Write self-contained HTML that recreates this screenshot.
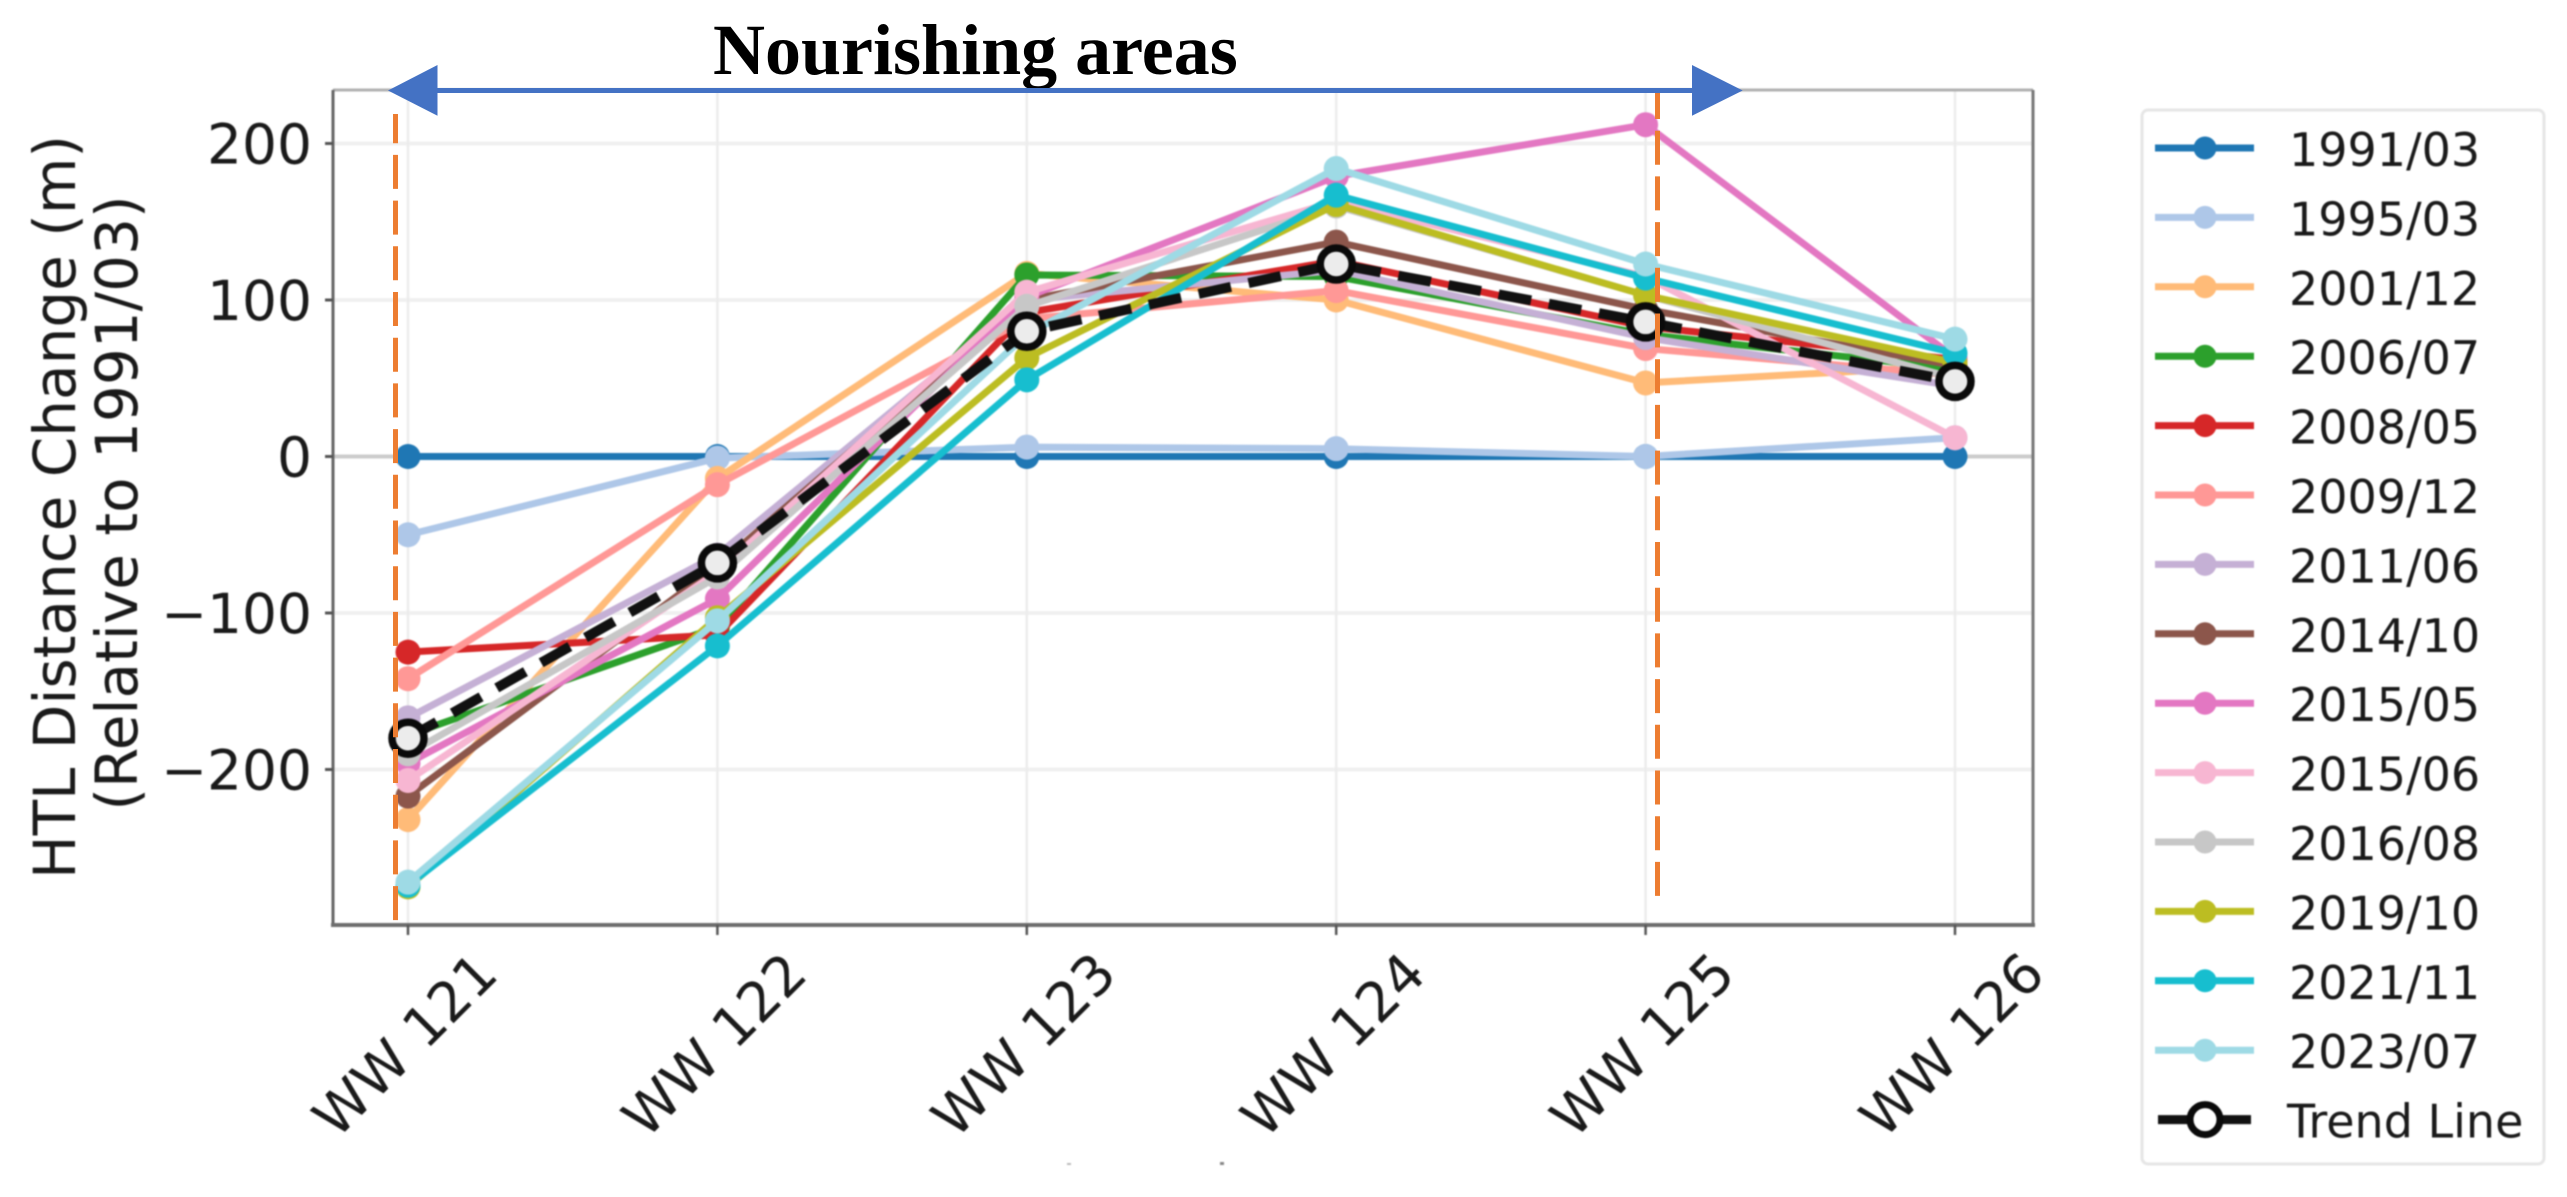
<!DOCTYPE html>
<html lang="en">
<head>
<meta charset="utf-8">
<title>HTL Distance Change</title>
<style>
  html, body { margin: 0; padding: 0; background: #fff; }
  #chart-svg { display: block; width: 2567px; height: 1197px; background: #fff; }
  text { font-family: "DejaVu Sans", "Liberation Sans", sans-serif; fill: #1a1a1a; }
  #base { filter: blur(0.8px); }
</style>
</head>
<body>
<svg id="chart-svg" xmlns="http://www.w3.org/2000/svg" width="2567" height="1197" viewBox="0 0 2567 1197">
  <g id="base">
    <g id="grid"></g>
    <line x1="333" y1="456.5" x2="2033" y2="456.5" stroke="#cccccc" stroke-width="4"></line>
    <g id="spines">
      <line x1="333" y1="90" x2="2033" y2="90" stroke="#b0b0b0" stroke-width="3"></line>
      <line x1="2033" y1="90" x2="2033" y2="926" stroke="#777777" stroke-width="3"></line>
      <line x1="333" y1="90" x2="333" y2="926" stroke="#666666" stroke-width="3"></line>
      <line x1="331" y1="925" x2="2035" y2="925" stroke="#6e6e6e" stroke-width="4"></line>
    </g>
    <g id="ticks"></g>
    <g id="series"></g>
    <g id="trend"></g>

    <text transform="translate(75 507) rotate(-90)" text-anchor="middle" font-size="58">HTL Distance Change (m)</text>
    <text transform="translate(137 503) rotate(-90)" text-anchor="middle" font-size="58">(Relative to 1991/03)</text>

    <rect x="2142" y="110" width="402" height="1054" rx="6" ry="6" fill="#ffffff" stroke="#e6e6e6" stroke-width="3"></rect>
    <g id="legend"></g>

    <rect x="1067" y="1163" width="4" height="2" fill="#bbbbbb"></rect>
    <rect x="1220" y="1162" width="4" height="3" fill="#888888"></rect>
  </g>

  <text x="713" y="74" font-size="72" font-weight="700" style="font-family:'Liberation Serif',serif;fill:#000">Nourishing areas</text>

  <line x1="395.5" y1="114" x2="395.5" y2="924" stroke="#ED7D31" stroke-width="5" stroke-dasharray="34 11.7" stroke-dashoffset="4.8"></line>
  <line x1="1657.5" y1="93" x2="1657.5" y2="899" stroke="#ED7D31" stroke-width="5" stroke-dasharray="34 11.7" stroke-dashoffset="8"></line>

  <g>
    <rect x="430" y="88" width="1270" height="5" fill="#4472C4"></rect>
    <polygon points="388,90.5 437.5,65 437.5,115.7" fill="#4472C4"></polygon>
    <polygon points="1742.7,90.5 1692,65 1692,115.7" fill="#4472C4"></polygon>
  </g>
</svg>

<script>
// Chart data
const categories = ["WW 121", "WW 122", "WW 123", "WW 124", "WW 125", "WW 126"];
const yTickValues = [200, 100, 0, -100, -200];
const yTickLabels = ["200", "100", "0", "\u2212100", "\u2212200"];

const seriesNames = ["1991/03", "1995/03", "2001/12", "2006/07", "2008/05", "2009/12", "2011/06", "2014/10", "2015/05", "2015/06", "2016/08", "2019/10", "2021/11", "2023/07"];
const seriesColors = ["#1f77b4", "#aec7e8", "#ffbb78", "#2ca02c", "#d62728", "#ff9896", "#c5b0d5", "#8c564b", "#e377c2", "#f7b6d2", "#c7c7c7", "#bcbd22", "#17becf", "#9edae5"];

const s199103 = [0, 0, 0, 0, 0, 0];
const s199503 = [-50, -1, 6, 5, 0, 12];
const s200112 = [-232, -14, 117, 100, 47, 58];
const s200607 = [-178, -109, 116, 115, 78, 56];
const s200805 = [-125, -114, 92, 125, 83, 62];
const s200912 = [-142, -18, 88, 106, 69, 52];
const s201106 = [-167, -63, 100, 119, 76, 45];
const s201410 = [-217, -70, 100, 137, 94, 58];
const s201505 = [-196, -91, 102, 179, 212, 63];
const s201506 = [-207, -74, 105, 163, 115, 12];
const s201608 = [-190, -77, 96, 160, 103, 50];
const s201910 = [-275, -103, 63, 161, 103, 60];
const s202111 = [-274, -121, 49, 167, 114, 66];
const s202307 = [-272, -105, 78, 184, 123, 75];
const seriesValues = [s199103, s199503, s200112, s200607, s200805, s200912, s201106, s201410, s201505, s201506, s201608, s201910, s202111, s202307];

const trendValues = [-180, -68, 80, 123, 86, 48];
const trendName = "Trend Line";

// Axis functions
function xScale(i) { return 408 + 309.4 * i; }
function yScale(v) { return 456.5 - 1.565 * v; }

const NS = "http://www.w3.org/2000/svg";
function mk(tag, parent) {
  const el = document.createElementNS(NS, tag);
  parent.appendChild(el);
  return el;
}
function pointsOf(vals) {
  return vals.map(function (v, i) { return xScale(i).toFixed(1) + "," + yScale(v).toFixed(1); }).join(" ");
}

const gridG = document.getElementById("grid");
const ticksG = document.getElementById("ticks");
const seriesG = document.getElementById("series");
const trendG = document.getElementById("trend");
const legendG = document.getElementById("legend");

// Gridlines, ticks and tick labels
yTickValues.forEach(function (v, i) {
  const y = yScale(v);
  if (v !== 0) {
    const g = mk("line", gridG);
    g.setAttribute("x1", 333); g.setAttribute("x2", 2033);
    g.setAttribute("y1", y); g.setAttribute("y2", y);
    g.setAttribute("stroke", "#f0f0f0"); g.setAttribute("stroke-width", 4);
    
    
  }
  const t = mk("line", ticksG);
  t.setAttribute("x1", 325); t.setAttribute("x2", 333);
  t.setAttribute("y1", y); t.setAttribute("y2", y);
  t.setAttribute("stroke", "#555"); t.setAttribute("stroke-width", 3);
  
  
  const l = mk("text", ticksG);
  l.setAttribute("x", 312); l.setAttribute("y", y + 20);
  l.setAttribute("text-anchor", "end"); l.setAttribute("font-size", 55);
  l.textContent = yTickLabels[i];
  
  
});

categories.forEach(function (c, i) {
  const x = xScale(i);
  const g = mk("line", gridG);
  g.setAttribute("x1", x); g.setAttribute("x2", x);
  g.setAttribute("y1", 90); g.setAttribute("y2", 925);
  g.setAttribute("stroke", "#ececec"); g.setAttribute("stroke-width", 2.5);
  
  
  const t = mk("line", ticksG);
  t.setAttribute("x1", x); t.setAttribute("x2", x);
  t.setAttribute("y1", 925); t.setAttribute("y2", 935);
  t.setAttribute("stroke", "#555"); t.setAttribute("stroke-width", 2.5);
  
  
  const l = mk("text", ticksG);
  l.setAttribute("transform", "translate(" + (x - 3) + " 1045) rotate(-45)");
  l.setAttribute("text-anchor", "middle");
  l.setAttribute("y", 19);
  l.setAttribute("font-size", 55);
  l.textContent = c;
  
  
});

// Series lines and markers
seriesValues.forEach(function (vals, s) {
  const g = mk("g", seriesG);
  
  
  const line = mk("polyline", g);
  line.setAttribute("points", pointsOf(vals));
  line.setAttribute("fill", "none");
  line.setAttribute("stroke", seriesColors[s]);
  line.setAttribute("stroke-width", 7);
  line.setAttribute("stroke-linejoin", "round");
  
  
  vals.forEach(function (v, i) {
    const c = mk("circle", g);
    c.setAttribute("cx", xScale(i));
    c.setAttribute("cy", yScale(v));
    c.setAttribute("r", 12.5);
    c.setAttribute("fill", seriesColors[s]);
    
    
  });
});

// Trend line
const trendLine = mk("polyline", trendG);
trendLine.setAttribute("points", pointsOf(trendValues));
trendLine.setAttribute("fill", "none");
trendLine.setAttribute("stroke", "#111");
trendLine.setAttribute("stroke-width", 10);
trendLine.setAttribute("stroke-dasharray", "33 18");


trendValues.forEach(function (v, i) {
  const c = mk("circle", trendG);
  c.setAttribute("cx", xScale(i));
  c.setAttribute("cy", yScale(v));
  c.setAttribute("r", 16);
  c.setAttribute("fill", "#ececec");
  c.setAttribute("stroke", "#0a0a0a");
  c.setAttribute("stroke-width", 7.5);
  
  
});

// Legend
function legendY(i) { return 148 + 69.4 * i; }
seriesNames.forEach(function (name, i) {
  const y = legendY(i);
  const g = mk("g", legendG);
  
  
  const line = mk("line", g);
  line.setAttribute("x1", 2155); line.setAttribute("x2", 2254);
  line.setAttribute("y1", y); line.setAttribute("y2", y);
  line.setAttribute("stroke", seriesColors[i]); line.setAttribute("stroke-width", 7);
  
  
  const c = mk("circle", g);
  c.setAttribute("cx", 2205); c.setAttribute("cy", y); c.setAttribute("r", 11.5);
  c.setAttribute("fill", seriesColors[i]);
  
  
  const t = mk("text", g);
  t.setAttribute("x", 2289); t.setAttribute("y", y + 18);
  t.setAttribute("font-size", 46);
  t.textContent = name;
  
  
});
(function () {
  const y = legendY(14);
  const g = mk("g", legendG);
  
  
  const line = mk("line", g);
  line.setAttribute("x1", 2158); line.setAttribute("x2", 2251);
  line.setAttribute("y1", y); line.setAttribute("y2", y);
  line.setAttribute("stroke", "#111"); line.setAttribute("stroke-width", 9);
  
  
  const c = mk("circle", g);
  c.setAttribute("cx", 2205); c.setAttribute("cy", y); c.setAttribute("r", 15);
  c.setAttribute("fill", "#fff"); c.setAttribute("stroke", "#0a0a0a"); c.setAttribute("stroke-width", 7);
  
  
  const t = mk("text", g);
  t.setAttribute("x", 2287); t.setAttribute("y", y + 18);
  t.setAttribute("font-size", 46);
  t.textContent = trendName;
  
  
})();
</script>
</body>
</html>
